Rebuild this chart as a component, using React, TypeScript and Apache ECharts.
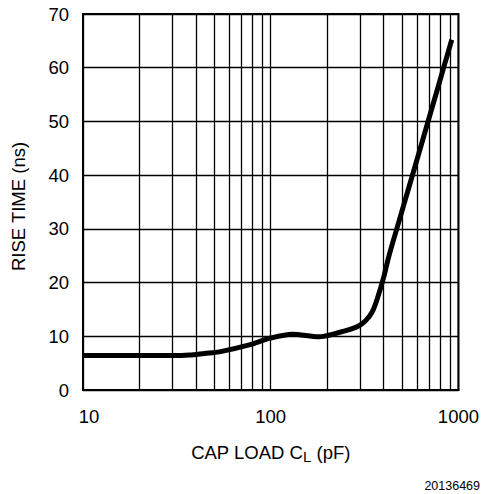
import React, { useEffect, useRef } from "react";
import * as echarts from "echarts";

const capLoad = [10, 20, 30, 36.9, 44.4, 53.3, 76.9, 98.2, 130.5, 180.8, 230.9, 290, 320, 348, 372, 400, 425.2, 480.5, 613.4, 783.3, 921.4];
const riseTime = [6.4, 6.4, 6.4, 6.5, 6.8, 7.1, 8.4, 9.6, 10.4, 9.9, 10.7, 11.8, 12.9, 14.6, 17.3, 21.0, 24.8, 31.2, 43.9, 56.7, 65.2];
const minorGrid = [20, 30, 40, 50, 60, 70, 80, 90, 200, 300, 400, 500, 600, 700, 800, 900];
const yTicks = [0, 10, 20, 30, 40, 50, 60, 70];
const xTicks = [10, 100, 1000];

const FONT = "'Liberation Sans', Arial, sans-serif";

export default function App() {
  const ref = useRef<HTMLDivElement>(null);
  useEffect(() => {
    if (!ref.current) return;
    const chart = echarts.init(ref.current, null, { renderer: "svg" });
    chart.setOption({
      animation: false,
      backgroundColor: "#ffffff",
      textStyle: { fontFamily: FONT, color: "#000" },
      grid: {
        left: 83,
        right: 22,
        top: 14,
        bottom: 104,
        show: true,
        borderColor: "#000",
        borderWidth: 2,
        backgroundColor: "transparent",
      },
      xAxis: {
        type: "log",
        logBase: 10,
        min: 10,
        max: 1000,
        name: "CAP LOAD C{sub|L} (pF)",
        nameLocation: "middle",
        nameGap: 50,
        nameTextStyle: {
          fontFamily: FONT,
          fontSize: 18.5,
          color: "#000",
          rich: {
            sub: { fontFamily: FONT, fontSize: 15, color: "#000", padding: [9, 0, 0, 0] },
          },
        },
        axisLine: { show: true, lineStyle: { color: "#000", width: 2 } },
        axisTick: { show: false },
        axisLabel: {
          fontFamily: FONT,
          fontSize: 18.5,
          color: "#000",
          margin: 17,
          formatter: (v: number) => {
            const r = Math.round(v);
            if (!xTicks.includes(r)) return "";
            return r === 10 ? "{first|10}" : String(r);
          },
          rich: {
            first: { fontFamily: FONT, fontSize: 18.5, color: "#000", padding: [0, 0, 0, 12] },
          },
        },
        splitLine: { show: true, lineStyle: { color: "#000", width: 1.3 } },
        minorTick: { show: false },
        minorSplitLine: { show: false },
      },
      yAxis: {
        type: "value",
        min: 0,
        max: 70,
        interval: 10,
        name: "RISE TIME (ns)",
        nameLocation: "middle",
        nameGap: 55,
        nameTextStyle: { fontFamily: FONT, fontSize: 18.5, color: "#000", padding: [0, 9, 0, 0] },
        axisLine: { show: true, lineStyle: { color: "#000", width: 2 } },
        axisTick: { show: false },
        axisLabel: {
          fontFamily: FONT,
          fontSize: 18.5,
          color: "#000",
          margin: 14,
          formatter: (v: number) => (yTicks.includes(v) ? String(v) : ""),
        },
        splitLine: { show: true, lineStyle: { color: "#000", width: 1.3 } },
      },
      series: [
        {
          type: "line",
          data: capLoad.map((c, i) => [c, riseTime[i]]),
          smooth: 0.3,
          symbol: "none",
          lineStyle: { color: "#000", width: 5 },
          z: 5,
          markLine: {
            silent: true,
            symbol: "none",
            label: { show: false },
            lineStyle: { color: "#000", width: 1.3, type: "solid" },
            data: minorGrid.map((v) => ({ xAxis: v })),
            z: 1,
          },
        },
      ],
      graphic: [
        {
          type: "text",
          right: 2,
          top: 479,
          style: { text: "20136469", fontFamily: FONT, fontSize: 12.5, fill: "#000" },
        },
      ],
    });
    return () => chart.dispose();
  }, []);
  return (
    <div
      ref={ref}
      style={{ position: "absolute", left: 0, top: 0, width: 482, height: 494 }}
    />
  );
}
